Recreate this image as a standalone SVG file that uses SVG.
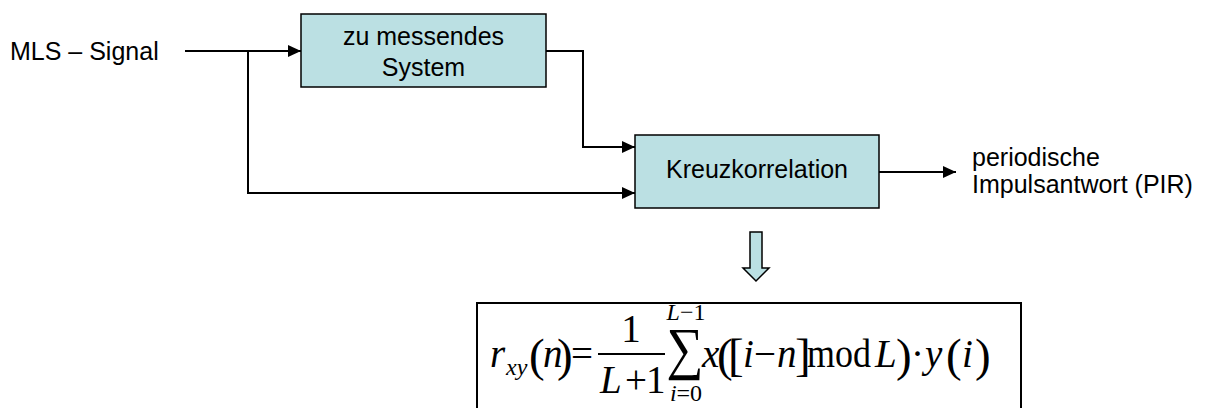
<svg xmlns="http://www.w3.org/2000/svg" width="1207" height="408" viewBox="0 0 1207 408">
  <style>
    .lbl { font-family: "Liberation Sans", Arial, sans-serif; font-size: 25px; fill: #000; }
    .box { fill: #BBE0E3; stroke: #000; stroke-width: 1.5; }
    .wire { fill: none; stroke: #000; stroke-width: 2; }
    .m { font-family: "Liberation Serif", "Times New Roman", serif; fill: #000; font-size: 39px; }
    .it { font-style: italic; }
    .big { font-size: 47px; }
    .sm { font-size: 24px; }
    .sum { font-size: 52px; }
  </style>
  <defs>
    <marker id="ah" markerUnits="userSpaceOnUse" viewBox="0 0 13 12" refX="13" refY="6" markerWidth="13" markerHeight="12" orient="auto">
      <path d="M0,0 L13,6 L0,12 Z" fill="#000"/>
    </marker>
  </defs>
  <rect width="1207" height="408" fill="#fff"/>

  <g id="connectors">
    <path class="wire" d="M185,51 H301" marker-end="url(#ah)"/>
    <path class="wire" d="M546,51 H583 V147 H635" marker-end="url(#ah)"/>
    <path class="wire" d="M248,51 V193 H635" marker-end="url(#ah)"/>
    <path class="wire" d="M879,172 H956" marker-end="url(#ah)"/>
  </g>

  <g id="input-label">
    <text class="lbl" x="10" y="60">MLS – Signal</text>
  </g>

  <g id="system">
    <rect class="box" x="301" y="14" width="245" height="73"/>
    <text class="lbl" x="423.5" y="45" text-anchor="middle">zu messendes</text>
    <text class="lbl" x="423.5" y="76" text-anchor="middle">System</text>
  </g>

  <g id="kreuzkorrelation">
    <rect class="box" x="635" y="135" width="244" height="73"/>
    <text class="lbl" x="757" y="178" text-anchor="middle">Kreuzkorrelation</text>
  </g>

  <g id="output-label">
    <text class="lbl" x="972" y="166">periodische</text>
    <text class="lbl" x="972" y="193">Impulsantwort (PIR)</text>
  </g>

  <g id="block-arrow">
    <polygon points="750,232 762,232 762,268 769,268 756,281 743,268 750,268" fill="#BBE0E3" stroke="#000" stroke-width="1.5"/>
  </g>

  <g id="formula">
    <rect x="477" y="303" width="544" height="120" fill="#fff" stroke="#000" stroke-width="2"/>
    <text class="m"><tspan class="it" x="490" y="367">r</tspan><tspan class="it sm" x="506" y="375">xy</tspan><tspan class="big" x="529" y="371">(</tspan><tspan class="it" x="543" y="367">n</tspan><tspan class="big" x="557" y="371">)</tspan><tspan x="571" y="367">=</tspan></text>
    <line x1="598" y1="354" x2="665" y2="354" stroke="#000" stroke-width="2"/>
    <text class="m" x="631" y="342" text-anchor="middle">1</text>
    <text class="m"><tspan class="it" x="600" y="393">L</tspan><tspan x="625" y="393">+</tspan><tspan x="646" y="393">1</tspan></text>
    <text class="m sum" transform="translate(685 368) scale(1 1.12)" x="0" y="0" text-anchor="middle">∑</text>
    <text class="m sm" x="686" y="320" text-anchor="middle"><tspan class="it">L</tspan>−1</text>
    <text class="m sm" x="686" y="401" text-anchor="middle"><tspan class="it">i</tspan>=0</text>
    <text class="m"><tspan class="it" x="702" y="367">x</tspan><tspan class="big" x="717" y="371">(</tspan><tspan class="big" x="728" y="371">[</tspan><tspan class="it" x="743" y="367">i</tspan><tspan x="754" y="367">−</tspan><tspan class="it" x="777" y="367">n</tspan><tspan class="big" x="795" y="371">]</tspan><tspan x="807" y="367" textLength="64" lengthAdjust="spacingAndGlyphs">mod</tspan><tspan class="it" x="875" y="367">L</tspan><tspan class="big" x="896" y="371">)</tspan><tspan x="911" y="367">·</tspan><tspan class="it" x="925" y="367">y</tspan><tspan class="big" x="946" y="371">(</tspan><tspan class="it" x="962" y="367">i</tspan><tspan class="big" x="975" y="371">)</tspan></text>
  </g>
</svg>
